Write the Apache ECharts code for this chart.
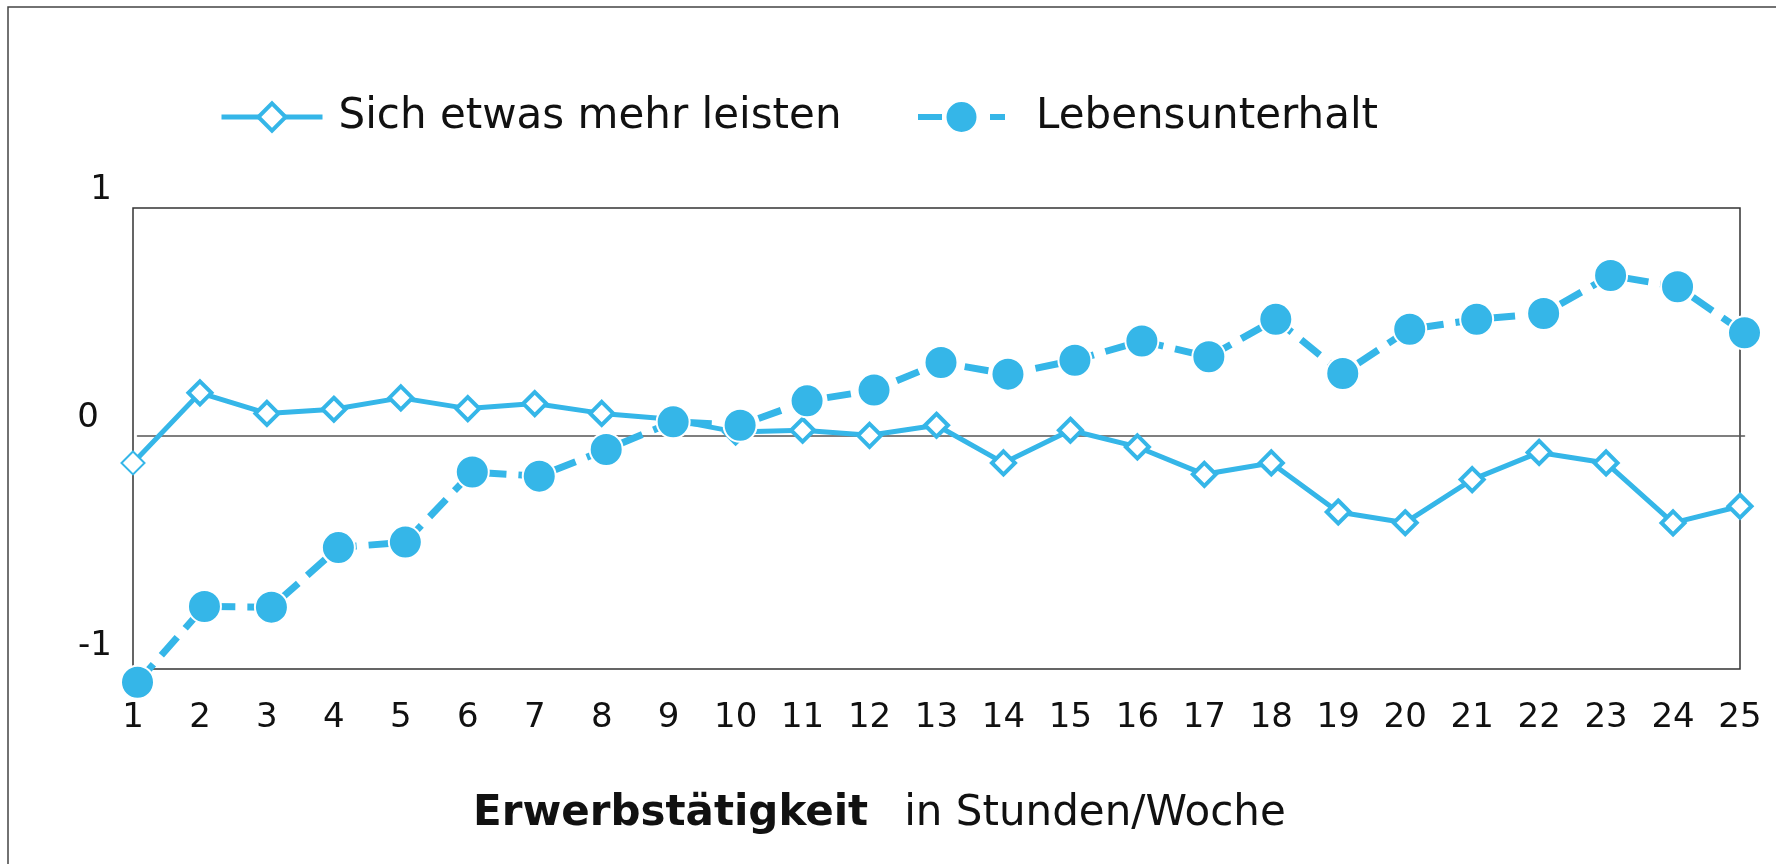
<!DOCTYPE html>
<html>
<head>
<meta charset="utf-8">
<script src="https://cdn.jsdelivr.net/npm/echarts@6/dist/echarts.min.js"></script>
<style>
  html, body { margin: 0; padding: 0; background: #fff; }
  #chart { width: 1776px; height: 864px; }
</style>
</head>
<body>
<div id="chart"></div>
<script>
const hours = ["1", "2", "3", "4", "5", "6", "7", "8", "9", "10", "11", "12", "13",
  "14", "15", "16", "17", "18", "19", "20", "21", "22", "23", "24", "25"];
const sichEtwasMehrLeisten = [-0.117, 0.19, 0.1, 0.118, 0.168, 0.121, 0.143, 0.1, 0.075,
  0.019, 0.026, 0.004, 0.048, -0.117, 0.026, -0.047, -0.167, -0.117, -0.332, -0.379,
  -0.19, -0.071, -0.117, -0.38, -0.307];
const lebensunterhalt = [-1.078, -0.746, -0.749, -0.488, -0.464, -0.157, -0.175, -0.058,
  0.063, 0.048, 0.155, 0.202, 0.323, 0.272, 0.333, 0.417, 0.348, 0.512, 0.275, 0.469,
  0.512, 0.538, 0.704, 0.655, 0.453];
const yTicks = [-1, 0, 1];

const blue = "#35b6e8";
const font = "DejaVu Sans";
const dash = [24, 12];

const chart = echarts.init(document.getElementById("chart"));

// first point has a thinner marker in the original
const sichData = sichEtwasMehrLeisten.map((v, i) =>
  i === 0 ? { value: v, itemStyle: { borderWidth: 2 } } : v
);

const options = {
  backgroundColor: "#fff",
  textStyle: { fontFamily: font, color: "#111" },
  graphic: [
    {
      type: "rect",
      silent: true,
      shape: { x: 8, y: 7, width: 3000, height: 2000 },
      style: { fill: "none", stroke: "#444", lineWidth: 1.5 },
    },
  ],
  title: {
    text: "{b|Erwerbstätigkeit}{n|in Stunden/Woche}",
    left: 473,
    top: 789,
    padding: 0,
    textStyle: {
      rich: {
        b: { fontFamily: font, fontSize: 42, fontWeight: "bold", color: "#111", lineHeight: 50 },
        n: { fontFamily: font, fontSize: 42, fontWeight: "normal", color: "#111", lineHeight: 50, padding: [0, 0, 0, 36] },
      },
    },
  },
  legend: [
    {
      data: ["Sich etwas mehr leisten"],
      left: 219,
      top: 92,
      padding: 0,
      itemWidth: 101,
      itemHeight: 34,
      lineStyle: { width: 5 },
      itemStyle: { borderWidth: 4 },
      textStyle: { fontFamily: font, fontSize: 42, color: "#111", lineHeight: 50, padding: [0, 0, 0, 11] },
    },
    {
      data: ["Lebensunterhalt"],
      left: 915,
      top: 92,
      padding: 0,
      itemWidth: 87,
      itemHeight: 40,
      lineStyle: { width: 6, type: dash },
      textStyle: { fontFamily: font, fontSize: 42, color: "#111", lineHeight: 50, padding: [0, 0, 0, 26] },
    },
  ],
  grid: [
    {
      left: 133,
      right: 36,
      top: 208,
      bottom: 195,
      show: true,
      borderColor: "#333",
      borderWidth: 1.5,
      backgroundColor: "transparent",
    },
    {
      left: 137.5,
      right: 31.5,
      top: 208,
      bottom: 195,
    },
  ],
  xAxis: [
    {
      type: "category",
      gridIndex: 0,
      data: hours,
      boundaryGap: false,
      axisLine: { show: false },
      axisTick: { show: false },
      axisLabel: { fontFamily: font, fontSize: 34, color: "#111", margin: 32 },
    },
    {
      type: "category",
      gridIndex: 1,
      data: hours,
      boundaryGap: false,
      axisLine: { show: true, onZero: true, lineStyle: { color: "#555", width: 1.5 } },
      axisTick: { show: false },
      axisLabel: { show: false },
    },
  ],
  yAxis: [
    {
      type: "value",
      gridIndex: 0,
      min: -1.02,
      max: 1,
      axisLine: { show: false },
      axisTick: { show: false },
      splitLine: { show: false },
      axisLabel: {
        customValues: yTicks,
        margin: 21,
        formatter: (v) => (v === 0 ? "{z|0}" : "{d|" + v + "}"),
        rich: {
          d: { fontFamily: font, fontSize: 34, color: "#111", padding: [0, 0, 36, 0] },
          z: { fontFamily: font, fontSize: 34, color: "#111", padding: [0, 13, 36, 0] },
        },
      },
    },
    {
      type: "value",
      gridIndex: 1,
      min: -1.02,
      max: 1,
      axisLine: { show: false },
      axisTick: { show: false },
      splitLine: { show: false },
      axisLabel: { show: false },
    },
  ],
  series: [
    {
      name: "Sich etwas mehr leisten",
      type: "line",
      xAxisIndex: 0,
      yAxisIndex: 0,
      data: sichData,
      clip: false,
      symbol: "diamond",
      symbolSize: 23,
      lineStyle: { color: blue, width: 5 },
      itemStyle: { color: "#fff", borderColor: blue, borderWidth: 4 },
      z: 3,
    },
    {
      name: "Lebensunterhalt",
      type: "line",
      xAxisIndex: 1,
      yAxisIndex: 1,
      data: lebensunterhalt,
      clip: false,
      symbol: "circle",
      symbolSize: 33,
      lineStyle: { color: blue, width: 7, type: dash },
      itemStyle: { color: blue, borderColor: "#fff", borderWidth: 2 },
      z: 4,
    },
  ],
};

chart.setOption(options);
</script>
</body>
</html>
